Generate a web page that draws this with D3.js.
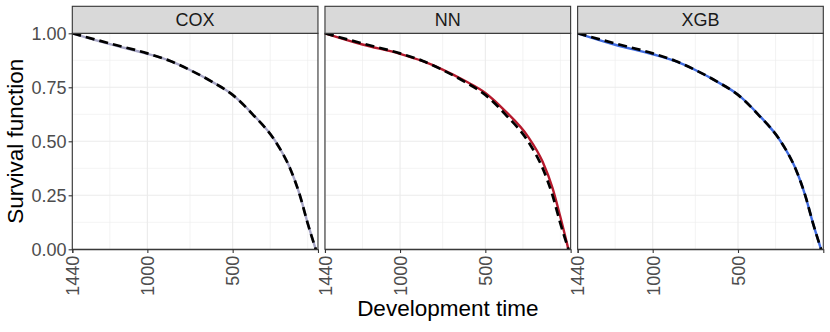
<!DOCTYPE html>
<meta charset="utf-8">
<html>

<head>
  <title>Survival function</title>
  <style>
    body { margin: 0; background: #fff; }
    text { font-family: "Liberation Sans", Arial, sans-serif; }
  </style>
</head>

<body>
  <script src="https://d3js.org/d3.v7.js"></script>
  <div id="my_dataviz"></div>

  <script>
    // development time grid (minutes)
    var times = [1440, 1220, 1000, 870, 750, 620, 500, 383, 250, 164, 106, 62, 13];

    // observed survival (black dashed), same in each panel
    var observed = [1, 0.953, 0.907, 0.873, 0.83, 0.775, 0.715, 0.625, 0.5, 0.375, 0.25, 0.125, 0];

    // model predictions
    var coxPred = [1, 0.95, 0.905, 0.873, 0.83, 0.775, 0.715, 0.626, 0.501, 0.376, 0.251, 0.126, 0];
    var nnPred = [1, 0.948, 0.905, 0.872, 0.832, 0.78, 0.724, 0.64, 0.522, 0.405, 0.283, 0.155, 0];
    var xgbPred = [1, 0.947, 0.903, 0.872, 0.83, 0.775, 0.716, 0.626, 0.5, 0.376, 0.25, 0.125, 0];

    var models = ["COX", "NN", "XGB"];
    var modelColors = ["#a7a6c6", "#b5192c", "#3f6be0"];
    var predictions = [coxPred, nnPred, xgbPred];

    var xTicks = [1440, 1000, 500];
    var xMinor = [1220, 750, 280, 60];
    var yTicks = [0, 0.25, 0.5, 0.75, 1];
    var yMinor = [0.125, 0.375, 0.625, 0.875];

    var W = 830, H = 332;
    var margin = { top: 33.3, left: 72.3, right: 6.7 };
    var panelGap = 7,
      stripH = 27,
      panelH = 216;
    var panelW = (W - margin.left - margin.right - 2 * panelGap) / 3;

    var svg = d3.select("#my_dataviz")
      .append("svg")
      .attr("width", W)
      .attr("height", H);

    var x = d3.scaleLinear().domain([1440, 0]).range([0, panelW]);
    var y = d3.scaleLinear().domain([0, 1]).range([panelH, 0]);

    var line = d3.line()
      .defined(function (d) { return d.s != null; })
      .x(function (d) { return x(d.t); })
      .y(function (d) { return y(d.s); })
      .curve(d3.curveMonotoneX);

    function toPoints(vals) {
      return times.map(function (t, i) { return { t: t, s: vals[i] }; });
    }

    models.forEach(function (m, k) {
      var g = svg.append("g")
        .attr("transform", "translate(" + (margin.left + k * (panelW + panelGap)) + "," + margin.top + ")");

      // grid
      g.selectAll(".xminor").data(xMinor).enter().append("line")
        .attr("x1", d => x(d)).attr("x2", d => x(d))
        .attr("y1", 0).attr("y2", panelH)
        .attr("stroke", "#ebebeb").attr("stroke-width", 0.6);
      g.selectAll(".yminor").data(yMinor).enter().append("line")
        .attr("y1", d => y(d)).attr("y2", d => y(d))
        .attr("x1", 0).attr("x2", panelW)
        .attr("stroke", "#ebebeb").attr("stroke-width", 0.6);
      g.selectAll(".xmajor").data(xTicks).enter().append("line")
        .attr("x1", d => x(d)).attr("x2", d => x(d))
        .attr("y1", 0).attr("y2", panelH)
        .attr("stroke", "#ebebeb").attr("stroke-width", 1.1);
      g.selectAll(".ymajor").data(yTicks).enter().append("line")
        .attr("y1", d => y(d)).attr("y2", d => y(d))
        .attr("x1", 0).attr("x2", panelW)
        .attr("stroke", "#ebebeb").attr("stroke-width", 1.1);

      // predicted curve, then observed dashed on top
      g.append("path")
        .datum(toPoints(predictions[k]))
        .attr("d", line)
        .attr("fill", "none")
        .attr("stroke", modelColors[k])
        .attr("stroke-width", 2.4);

      g.append("path")
        .datum(toPoints(observed))
        .attr("d", line)
        .attr("fill", "none")
        .attr("stroke", "#000")
        .attr("stroke-width", 2.7)
        .attr("stroke-dasharray", "9,5");

      // panel border
      g.append("rect")
        .attr("width", panelW).attr("height", panelH)
        .attr("fill", "none").attr("stroke", "#333").attr("stroke-width", 1.1);

      // strip
      g.append("rect")
        .attr("y", -stripH).attr("width", panelW).attr("height", stripH)
        .attr("fill", "#d9d9d9").attr("stroke", "#333").attr("stroke-width", 1.1);
      g.append("text")
        .attr("x", panelW / 2).attr("y", -stripH / 2 + 6.5)
        .attr("text-anchor", "middle")
        .attr("font-size", "18px").attr("fill", "#1a1a1a")
        .text(m);

      // x axis
      var xa = g.append("g")
        .attr("transform", "translate(0," + panelH + ")")
        .call(d3.axisBottom(x).tickValues(xTicks).tickSize(3.7).tickPadding(3).tickFormat(d3.format("d")));
      xa.select(".domain").attr("stroke", "#333").attr("stroke-width", 1.1);
      xa.selectAll(".tick line").attr("stroke", "#333").attr("stroke-width", 1.1);
      xa.selectAll("text")
        .attr("font-size", "18px").attr("fill", "#4d4d4d")
        .attr("transform", "rotate(-90)")
        .attr("text-anchor", "end")
        .attr("x", -6.5).attr("y", 0).attr("dy", "0.35em");

      // y axis only on first panel
      if (k === 0) {
        var ya = g.append("g")
          .call(d3.axisLeft(y).tickValues(yTicks).tickSize(3.7).tickPadding(2).tickFormat(d3.format(".2f")));
        ya.select(".domain").remove();
        ya.selectAll(".tick line").attr("stroke", "#333").attr("stroke-width", 1.1);
        ya.selectAll("text").attr("font-size", "18px").attr("fill", "#4d4d4d");
      }
    });

    // axis titles
    svg.append("text")
      .attr("x", margin.left + (W - margin.left - margin.right) / 2)
      .attr("y", 316)
      .attr("text-anchor", "middle")
      .attr("font-size", "22.5px").attr("fill", "#000")
      .text("Development time");

    svg.append("text")
      .attr("transform", "translate(" + 23 + "," + (margin.top + panelH / 2) + ") rotate(-90)")
      .attr("text-anchor", "middle")
      .attr("font-size", "22.5px").attr("fill", "#000")
      .text("Survival function");
  </script>
</body>

</html>
